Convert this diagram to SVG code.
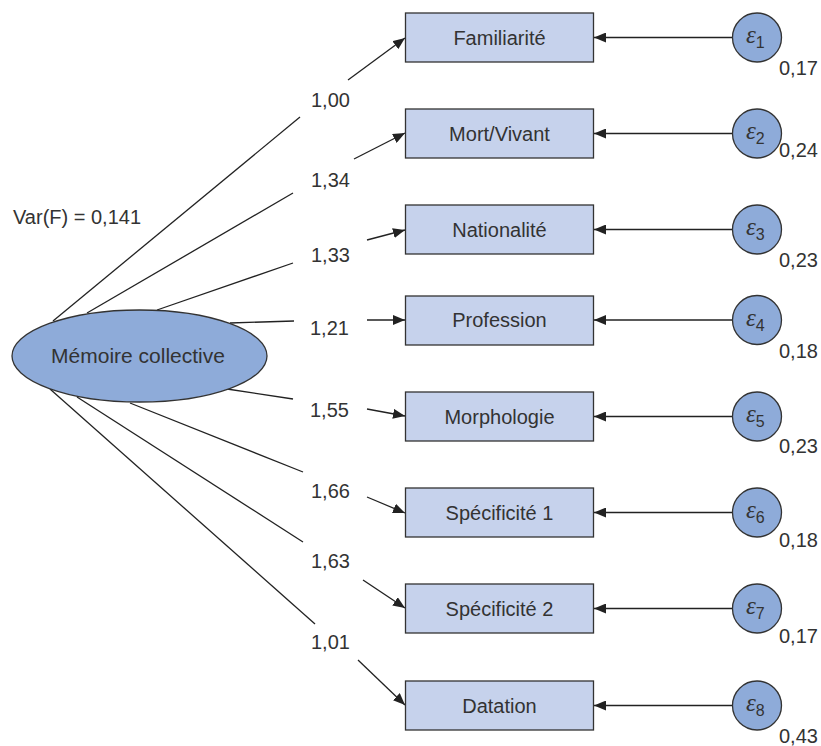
<svg xmlns="http://www.w3.org/2000/svg" width="821" height="746" viewBox="0 0 821 746">
<defs>
<style>
.t{font-family:"Liberation Sans","Open Sans",sans-serif;font-size:20px;fill:#333}
.c{text-anchor:middle}
.box{fill:#c6d2ec;stroke:#333;stroke-width:1.3}
.lat{fill:#8eabd9;stroke:#333;stroke-width:1.3}
.ln{stroke:#222;stroke-width:1.3;fill:none}
.ar{stroke:#222;stroke-width:1.3;fill:none;marker-end:url(#arr)}
.eps{font-family:"Liberation Serif","DejaVu Serif",serif;font-style:italic;font-size:25px;fill:#333}
.sub{font-family:"Liberation Sans",sans-serif;font-style:normal;font-size:16px}
</style>
<marker id="arr" viewBox="0 0 12 10" refX="12" refY="5" markerWidth="12" markerHeight="10" orient="auto" markerUnits="userSpaceOnUse">
<path d="M0,0 L12,5 L0,10 z" fill="#222"/>
</marker>
</defs>
<rect width="821" height="746" fill="#fff"/>
<g id="connectors">
<line class="ln" x1="53" y1="321" x2="300" y2="117"/>
<line class="ln" x1="87" y1="313" x2="293" y2="193"/>
<line class="ln" x1="157" y1="310" x2="293" y2="263"/>
<line class="ln" x1="230" y1="323" x2="294" y2="321"/>
<line class="ln" x1="227" y1="389" x2="293" y2="399"/>
<line class="ln" x1="130" y1="403" x2="303" y2="472"/>
<line class="ln" x1="77" y1="397" x2="303" y2="542"/>
<line class="ln" x1="50" y1="389" x2="315" y2="624"/>
<line class="ar" x1="348" y1="80" x2="405" y2="38"/>
<line class="ar" x1="354" y1="159" x2="405" y2="133"/>
<line class="ar" x1="367" y1="240" x2="405" y2="230"/>
<line class="ar" x1="367" y1="320" x2="405" y2="320"/>
<line class="ar" x1="367" y1="409" x2="405" y2="416"/>
<line class="ar" x1="367" y1="497" x2="405" y2="513"/>
<line class="ar" x1="363" y1="580" x2="405" y2="608"/>
<line class="ar" x1="358" y1="660" x2="405" y2="705"/>
<line class="ar" x1="732" y1="37.5" x2="594" y2="37.5"/>
<line class="ar" x1="732" y1="133.5" x2="594" y2="133.5"/>
<line class="ar" x1="732" y1="229.5" x2="594" y2="229.5"/>
<line class="ar" x1="732" y1="320" x2="594" y2="320"/>
<line class="ar" x1="732" y1="416.5" x2="594" y2="416.5"/>
<line class="ar" x1="732" y1="512.5" x2="594" y2="512.5"/>
<line class="ar" x1="732" y1="608.5" x2="594" y2="608.5"/>
<line class="ar" x1="732" y1="705.5" x2="594" y2="705.5"/>
<text class="t" x="311" y="107">1,00</text>
<text class="t" x="311" y="187">1,34</text>
<text class="t" x="311" y="262">1,33</text>
<text class="t" x="310" y="335">1,21</text>
<text class="t" x="310" y="417">1,55</text>
<text class="t" x="311" y="498">1,66</text>
<text class="t" x="311" y="568">1,63</text>
<text class="t" x="311" y="649">1,01</text>
</g>
<g id="var"><text class="t" x="13" y="224">Var(F) = 0,141</text></g>
<g id="memoire">
<ellipse class="lat" cx="139.5" cy="356" rx="127.5" ry="46"/>
<text class="t c" x="138" y="363" style="font-size:21px">Mémoire collective</text>
</g>
<g id="familiarite"><rect class="box" x="405.5" y="13" width="188" height="49"/><text class="t c" x="499.5" y="44.5">Familiarité</text></g>
<g id="mortvivant"><rect class="box" x="405.5" y="109" width="188" height="49"/><text class="t c" x="499.5" y="140.5">Mort/Vivant</text></g>
<g id="nationalite"><rect class="box" x="405.5" y="205" width="188" height="49"/><text class="t c" x="499.5" y="236.5">Nationalité</text></g>
<g id="profession"><rect class="box" x="405.5" y="296" width="188" height="49"/><text class="t c" x="499.5" y="327">Profession</text></g>
<g id="morphologie"><rect class="box" x="405.5" y="392" width="188" height="49"/><text class="t c" x="499.5" y="423.5">Morphologie</text></g>
<g id="specificite1"><rect class="box" x="405.5" y="488" width="188" height="49"/><text class="t c" x="499.5" y="519.5">Spécificité 1</text></g>
<g id="specificite2"><rect class="box" x="405.5" y="584" width="188" height="49"/><text class="t c" x="499.5" y="615.5">Spécificité 2</text></g>
<g id="datation"><rect class="box" x="405.5" y="681" width="188" height="49"/><text class="t c" x="499.5" y="712.5">Datation</text></g>
<g id="e1"><circle class="lat" cx="757" cy="37.5" r="24.5"/><text class="eps" x="746" y="43">ε<tspan class="sub" dy="5">1</tspan></text><text class="t" x="779" y="75">0,17</text></g>
<g id="e2"><circle class="lat" cx="757" cy="133.5" r="24.5"/><text class="eps" x="746" y="139">ε<tspan class="sub" dy="5">2</tspan></text><text class="t" x="779" y="157">0,24</text></g>
<g id="e3"><circle class="lat" cx="757" cy="229.5" r="24.5"/><text class="eps" x="746" y="235">ε<tspan class="sub" dy="5">3</tspan></text><text class="t" x="779" y="267">0,23</text></g>
<g id="e4"><circle class="lat" cx="757" cy="320" r="24.5"/><text class="eps" x="746" y="325.5">ε<tspan class="sub" dy="5">4</tspan></text><text class="t" x="779" y="358">0,18</text></g>
<g id="e5"><circle class="lat" cx="757" cy="416.5" r="24.5"/><text class="eps" x="746" y="422">ε<tspan class="sub" dy="5">5</tspan></text><text class="t" x="779" y="453">0,23</text></g>
<g id="e6"><circle class="lat" cx="757" cy="512.5" r="24.5"/><text class="eps" x="746" y="518">ε<tspan class="sub" dy="5">6</tspan></text><text class="t" x="779" y="547">0,18</text></g>
<g id="e7"><circle class="lat" cx="757" cy="608.5" r="24.5"/><text class="eps" x="746" y="614">ε<tspan class="sub" dy="5">7</tspan></text><text class="t" x="779" y="643">0,17</text></g>
<g id="e8"><circle class="lat" cx="757" cy="705.5" r="24.5"/><text class="eps" x="746" y="711">ε<tspan class="sub" dy="5">8</tspan></text><text class="t" x="779" y="743">0,43</text></g>
</svg>
